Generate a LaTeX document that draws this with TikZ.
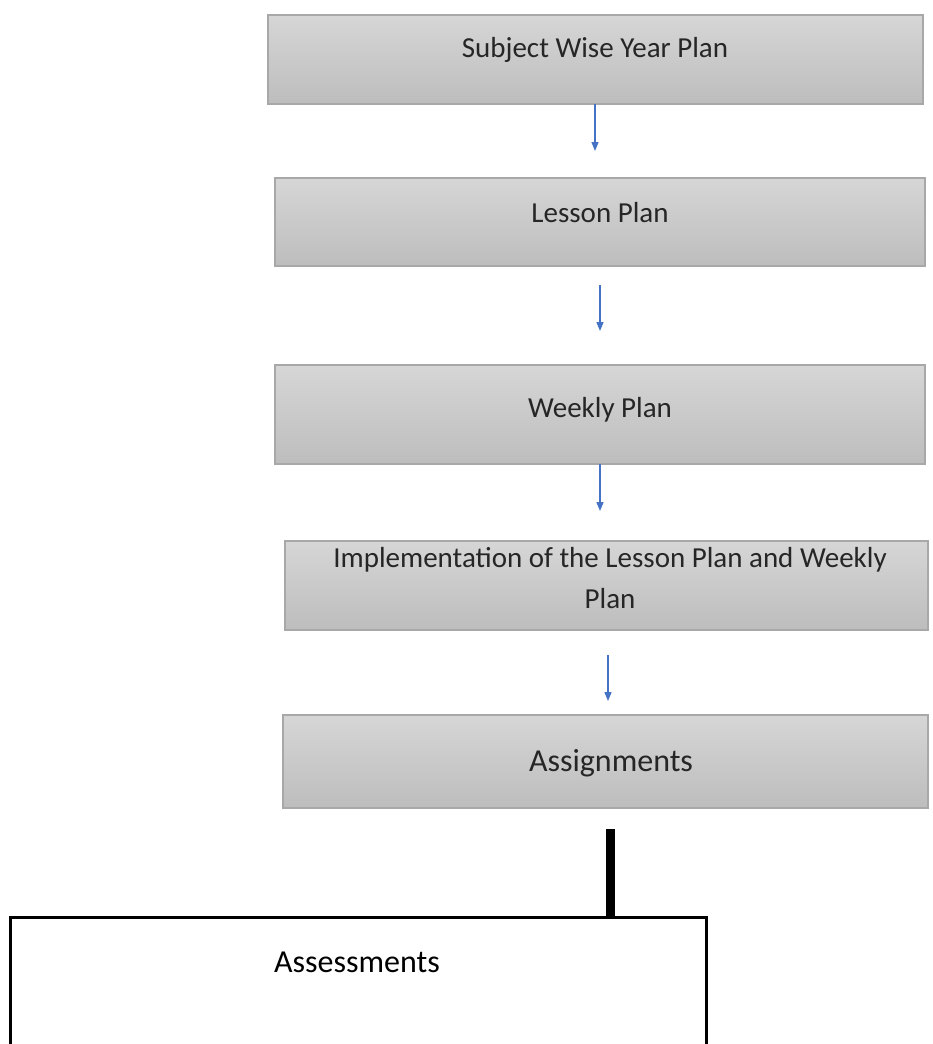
\documentclass[tikz,border=0pt]{standalone}
\usepackage{fontspec}
\setmainfont{Carlito}
\usetikzlibrary{arrows.meta}
\definecolor{arrowblue}{HTML}{4472C4}
\definecolor{boxtop}{HTML}{D6D6D6}
\definecolor{boxbot}{HTML}{BDBDBD}
\definecolor{boxline}{HTML}{A8A8A8}
\tikzset{
  graybox/.style={rectangle, draw=boxline, line width=1.2pt, top color=boxtop, bottom color=boxbot, inner sep=0pt},
  boxtext/.style={font=\fontsize{29}{35}\selectfont, text=black!85, align=center, inner sep=0pt},
  bluearrow/.style={draw=arrowblue, line width=1.3pt, -{Triangle[length=9pt,width=7pt]}},
}
\begin{document}
\begin{tikzpicture}[x=1pt,y=-1pt]
\useasboundingbox[fill=white] (0,0) rectangle (933,1044);
\begin{scope}
\clip (0,0) rectangle (933,1044);
% boxes
\node[graybox, minimum width=655pt, minimum height=89pt] (b1) at (595.5,59.5) {};
\node[graybox, minimum width=650pt, minimum height=88pt] (b2) at (600,222) {};
\node[graybox, minimum width=650pt, minimum height=99pt] (b3) at (600,414.5) {};
\node[graybox, minimum width=643pt, minimum height=89pt] (b4) at (606.5,585.5) {};
\node[graybox, minimum width=645pt, minimum height=93pt] (b5) at (605.5,761.5) {};
% texts
\node[boxtext] (t1) at (595,50) {Subject Wise Year Plan};
\node[boxtext] (t2) at (600,213) {Lesson Plan};
\node[boxtext] (t3) at (600,410) {Weekly Plan};
\node[boxtext, font=\fontsize{29}{41}\selectfont] (t4) at (610,578) {Implementation of the Lesson Plan and Weekly\\Plan};
\node[boxtext, font=\fontsize{32}{38}\selectfont] (t5) at (611,763) {Assignments};
% arrows
\coordinate (a1s) at (595,104); \coordinate (a1e) at (595,151);
\coordinate (a2s) at (600,285); \coordinate (a2e) at (600,331);
\coordinate (a3s) at (600,464); \coordinate (a3e) at (600,511);
\coordinate (a4s) at (608,655); \coordinate (a4e) at (608,701);
\draw[bluearrow] (a1s) -- (a1e);
\draw[bluearrow] (a2s) -- (a2e);
\draw[bluearrow] (a3s) -- (a3e);
\draw[bluearrow] (a4s) -- (a4e);
% assessments box
\draw[black, line width=3pt, fill=white] (10,1060) -- (10,917) -- (706,917) -- (706,1060);
\coordinate (b6top) at (610,917);
\coordinate (barTop) at (610,829);
\draw[black, line width=9pt] (barTop) -- (b6top);
\node[font=\fontsize{32}{38}\selectfont, inner sep=0pt] (t6) at (357,962) {Assessments};
\end{scope}
\end{tikzpicture}
\end{document}
